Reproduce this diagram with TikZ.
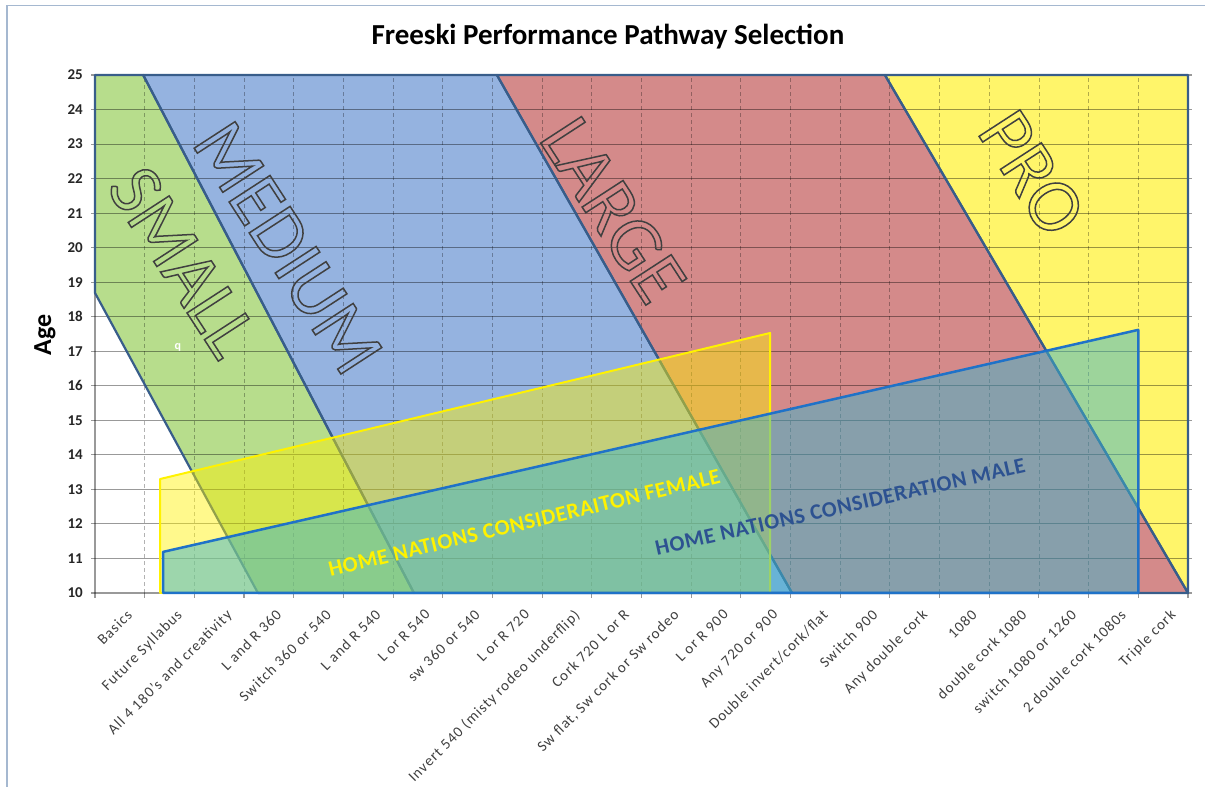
\documentclass[tikz,border=0pt]{standalone}
\usepackage{fontspec}
\setmainfont{Carlito}
\definecolor{smallgreen}{RGB}{183,221,140}
\definecolor{mediumblue}{RGB}{149,179,224}
\definecolor{largered}{RGB}{212,138,138}
\definecolor{proyellow}{RGB}{255,245,106}
\definecolor{zoneline}{RGB}{56,93,138}
\definecolor{femaleline}{RGB}{255,242,0}
\definecolor{malefill}{RGB}{60,180,205}
\definecolor{maleline}{RGB}{31,114,200}
\definecolor{maletext}{RGB}{45,82,145}
\definecolor{framecol}{RGB}{165,184,208}
\tikzset{
  zone/.style={
    draw=zoneline,
    line width=2.2pt,
    line join=round
  },
  gridh/.style={black, opacity=0.4, line width=1.1pt},
  gridv/.style={black, opacity=0.3, line width=0.8pt, dash pattern=on 4pt off 3pt},
  zonelabel/.style={
    font=\fontsize{76}{76}\selectfont,
    text=black!75,
    rotate=-57,
    inner sep=0pt
  },
  catlabel/.style={
    font=\fontsize{15}{15}\selectfont\addfontfeature{LetterSpace=7},
    text=black!75,
    rotate=45,
    anchor=north east,
    inner sep=1pt
  },
  agelabel/.style={font=\bfseries\fontsize{15}{15}\selectfont, text=black!85, anchor=east, inner sep=0pt},
  homelabel/.style={font=\bfseries\fontsize{22}{22}\selectfont\addfontfeature{LetterSpace=3}, inner sep=0pt},
  femalezone/.style={draw=femaleline, fill=yellow, fill opacity=0.45, line width=2pt, line join=round},
  malezone/.style={draw=maleline, fill=malefill, fill opacity=0.5, line width=2.5pt, line join=round}
}
\newcommand{\hollow}[1]{\special{pdf:literal direct 1 Tr 1.5 w}#1\special{pdf:literal direct 0 Tr}}

\begin{document}
\begin{tikzpicture}[x=49.68pt, y=34.53pt]
    \useasboundingbox (-1.912,4.382) rectangle (22.343,27.173);
    \draw[framecol, line width=1.5pt] (-1.771,4.382) -- (-1.771,27.008) -- (22.343,27.008);

    % pathway zones
    \fill[smallgreen] (0,25) -- (0.97,25) -- (6.42,10) -- (3.28,10) -- (0,18.69) -- cycle;
    \fill[mediumblue] (0.97,25) -- (8.09,25) -- (14.03,10) -- (6.42,10) -- cycle;
    \fill[largered] (8.09,25) -- (15.9,25) -- (22,10) -- (14.03,10) -- cycle;
    \fill[proyellow] (15.9,25) -- (22,25) -- (22,10) -- cycle;

    % grid
    \foreach \y in {10,...,25}
        \draw[gridh] (-0.08,\y) -- (22.08,\y);
    \foreach \x in {1,...,21}
        \draw[gridv] (\x,10) -- (\x,25);
    \foreach \x in {0,...,22}
        \draw[gridh] (\x,10) -- (\x,9.85);
    \draw[gridh] (0,10) -- (0,25);

    \draw[zone] (0,25) -- (0.97,25) -- (6.42,10) -- (3.28,10) -- (0,18.69) -- cycle;
    \draw[zone] (0.97,25) -- (8.09,25) -- (14.03,10) -- (6.42,10) -- cycle;
    \draw[zone] (8.09,25) -- (15.9,25) -- (22,10) -- (14.03,10) -- cycle;
    \draw[zone] (15.9,25) -- (22,25) -- (22,10) -- cycle;

    \node[zonelabel] (smalllabel) at (1.77,19.59) {\hollow{SMALL}};
    \node[zonelabel] (mediumlabel) at (3.88,19.99) {\hollow{MEDIUM}};
    \node[zonelabel] (largelabel) at (10.43,21.09) {\hollow{LARGE}};
    \node[zonelabel] (prolabel) at (18.86,22.16) {\hollow{PRO}};
    \node[text=white, font=\bfseries\fontsize{12}{12}\selectfont] (qmark) at (1.67,17.1) {q};

    % home nations
    \draw[femalezone] (1.31,10) -- (1.31,13.30) -- (13.59,17.53) -- (13.59,10) -- cycle;
    \draw[malezone] (1.37,10) -- (1.37,11.19) -- (21.0,17.62) -- (21.0,10) -- cycle;
    \node[homelabel, text=femaleline, rotate=13.5] (femalelabel) at (8.64,12.03) {HOME NATIONS CONSIDERAITON FEMALE};
    \node[homelabel, text=maletext, rotate=12.7] (malelabel) at (15.0,12.49) {HOME NATIONS CONSIDERATION MALE};

    % axes text
    \foreach \y in {10,...,25}
        \node[agelabel] (age-\y) at ([xshift=-12pt]0,\y) {\y};
    \foreach \lab [count=\i from 0] in {Basics, Future Syllabus, All 4 180's and creativity, L and R 360, Switch 360 or 540, L and R 540, L or R 540, sw 360 or 540, L or R 720, Invert 540 (misty rodeo underflip), Cork 720 L or R, {Sw flat, Sw cork or Sw rodeo}, L or R 900, Any 720 or 900, Double invert/cork/flat, Switch 900, Any double cork, 1080, double cork 1080, switch 1080 or 1260, 2 double cork 1080s, Triple cork}
        \node[catlabel] (cat-\i) at ([xshift=6pt, yshift=-14pt]\i+0.5,10) {\lab};
    \node[font=\bfseries\fontsize{26}{26}\selectfont, rotate=90] (agetitle) at (-1.006,17.47) {Age};
    \node[font=\bfseries\fontsize{29}{29}\selectfont] (title) at (10.326,26.10) {Freeski Performance Pathway Selection};
\end{tikzpicture}
\end{document}
